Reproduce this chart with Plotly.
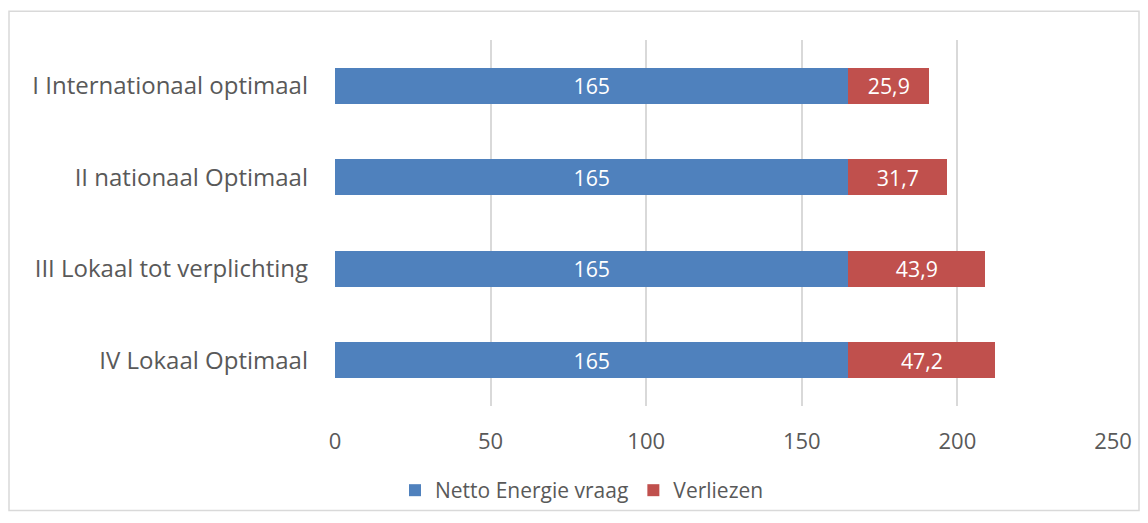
import plotly.graph_objects as go

categories = ["I Internationaal optimaal", "II nationaal Optimaal",
              "III Lokaal tot verplichting", "IV Lokaal Optimaal"]
netto = [165, 165, 165, 165]
verliezen = [25.9, 31.7, 43.9, 47.2]
tick_vals = [0, 50, 100, 150, 200, 250]

W, H = 1148, 523
ML, MR, MT, MB = 335, 35, 40, 115
pw, ph = W - ML - MR, H - MT - MB

def fmt(v):
    return ("%g" % v).replace(".", ",")

font = "Open Sans, Noto Sans, sans-serif"
grey = "#595959"

fig = go.Figure()
fig.add_trace(go.Bar(
    y=categories, x=netto, orientation="h", name="Netto Energie vraag",
    marker=dict(color="#4F81BD", line=dict(width=0)),
    text=[fmt(v) for v in netto], textposition="inside", insidetextanchor="middle",
    textfont=dict(color="white", size=23, family=font),
))
fig.add_trace(go.Bar(
    y=categories, x=verliezen, orientation="h", name="Verliezen",
    marker=dict(color="#C0504D", line=dict(width=0)),
    text=[fmt(v) for v in verliezen], textposition="inside", insidetextanchor="middle",
    textfont=dict(color="white", size=23, family=font),
))

# outer chart border
x0 = (9 - ML) / pw
x1 = (W - 9 - ML) / pw
y0 = 1 - (H - 10 - MT) / ph
y1 = 1 - (11 - MT) / ph
fig.add_shape(type="rect", xref="paper", yref="paper", x0=x0, x1=x1, y0=y0, y1=y1,
              line=dict(color="#D9D9D9", width=1.5), fillcolor="rgba(0,0,0,0)", layer="below")

fig.update_layout(
    width=W, height=H, barmode="stack", bargap=0.61,
    margin=dict(l=ML, r=MR, t=MT, b=MB),
    paper_bgcolor="white", plot_bgcolor="white",
    font=dict(family=font, color=grey, size=22),
    uniformtext=dict(minsize=10, mode="show"),
    xaxis=dict(range=[0, 250], tickvals=tick_vals, showgrid=True, gridcolor="#D9D9D9",
               gridwidth=1.5, zeroline=False, showline=False, ticks="",
               tickfont=dict(size=22, color=grey), ticklabelstandoff=20, fixedrange=True),
    yaxis=dict(autorange="reversed", showgrid=False, showline=False, ticks="",
               tickfont=dict(size=24, color=grey), ticklabelstandoff=26, fixedrange=True),
    legend=dict(orientation="h", x=(395 - ML) / pw, xanchor="left",
                y=1 - (493 - MT) / ph, yanchor="middle",
                bgcolor="rgba(0,0,0,0)",
                font=dict(size=21, color=grey), traceorder="normal",
                itemwidth=30, tracegroupgap=0),
    showlegend=True,
)

fig.write_html("out.html")
